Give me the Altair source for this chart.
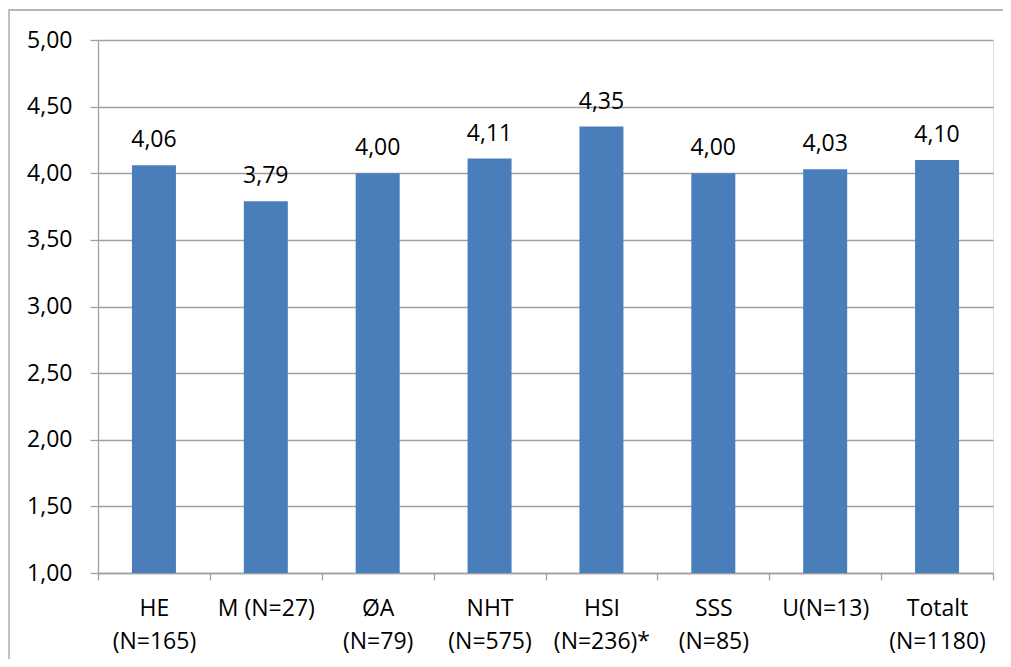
import altair as alt
import pandas as pd

categories = ["HE|(N=165)", "M (N=27)", "ØA|(N=79)", "NHT|(N=575)",
              "HSI|(N=236)*", "SSS|(N=85)", "U(N=13)", "Totalt|(N=1180)"]
values = [4.06, 3.79, 4.00, 4.11, 4.35, 4.00, 4.03, 4.10]
y_ticks = [1.0, 1.5, 2.0, 2.5, 3.0, 3.5, 4.0, 4.5, 5.0]

df = pd.DataFrame({"cat": categories, "val": values})
df["lab"] = [f"{v:.2f}".replace(".", ",") for v in values]

FONT = "Open Sans"
FS = 23
GRID = "#a0a0a0"

x = alt.X("cat:N", sort=categories, title=None,
          scale=alt.Scale(paddingInner=0, paddingOuter=0),
          axis=alt.Axis(labelExpr="split(datum.label, '|')", labelAngle=0,
                        labelFont=FONT, labelFontSize=FS, labelColor="black",
                        labelLineHeight=33, labelPadding=17, labelBaseline="top",
                        tickBand="extent", tickSize=7, tickColor=GRID,
                        domainColor=GRID, domainWidth=1.3, tickWidth=1.3,
                        grid=False))
y = alt.Y("val:Q", title=None,
          scale=alt.Scale(domain=[1, 5], nice=False, zero=False),
          axis=alt.Axis(values=y_ticks, labelExpr="replace(format(datum.value, '.2f'), '.', ',')",
                        labelFont=FONT, labelFontSize=FS, labelColor="black",
                        labelPadding=18, tickSize=8, tickColor=GRID, tickWidth=1.3,
                        domainColor=GRID, domainWidth=1.3,
                        gridColor=GRID, gridWidth=1.3))

bars = alt.Chart(df).mark_bar(size=44, color="#4A7EBB").encode(
    x=x, y=y, y2=alt.datum(1))

text = alt.Chart(df).mark_text(font=FONT, fontSize=FS, color="black",
                               baseline="alphabetic", dy=-18).encode(
    x=alt.X("cat:N", sort=categories), y="val:Q", text="lab:N")

border = alt.Chart(alt.Data(values=[{"a": 1}])).mark_rect(
    filled=False, stroke=GRID, strokeWidth=1.3, clip=False).encode(
    x=alt.value(-89), x2=alt.value(915), y=alt.value(-30), y2=alt.value(640))

chart = alt.layer(border, bars, text).properties(
    width=895, height=533,
    autosize=alt.AutoSizeParams(type="none"),
    padding={"left": 90, "top": 32, "right": 10, "bottom": 86},
).configure_view(stroke=None).configure(background="white")

chart.save("out.html", embed_options={"renderer": "svg", "actions": False})
